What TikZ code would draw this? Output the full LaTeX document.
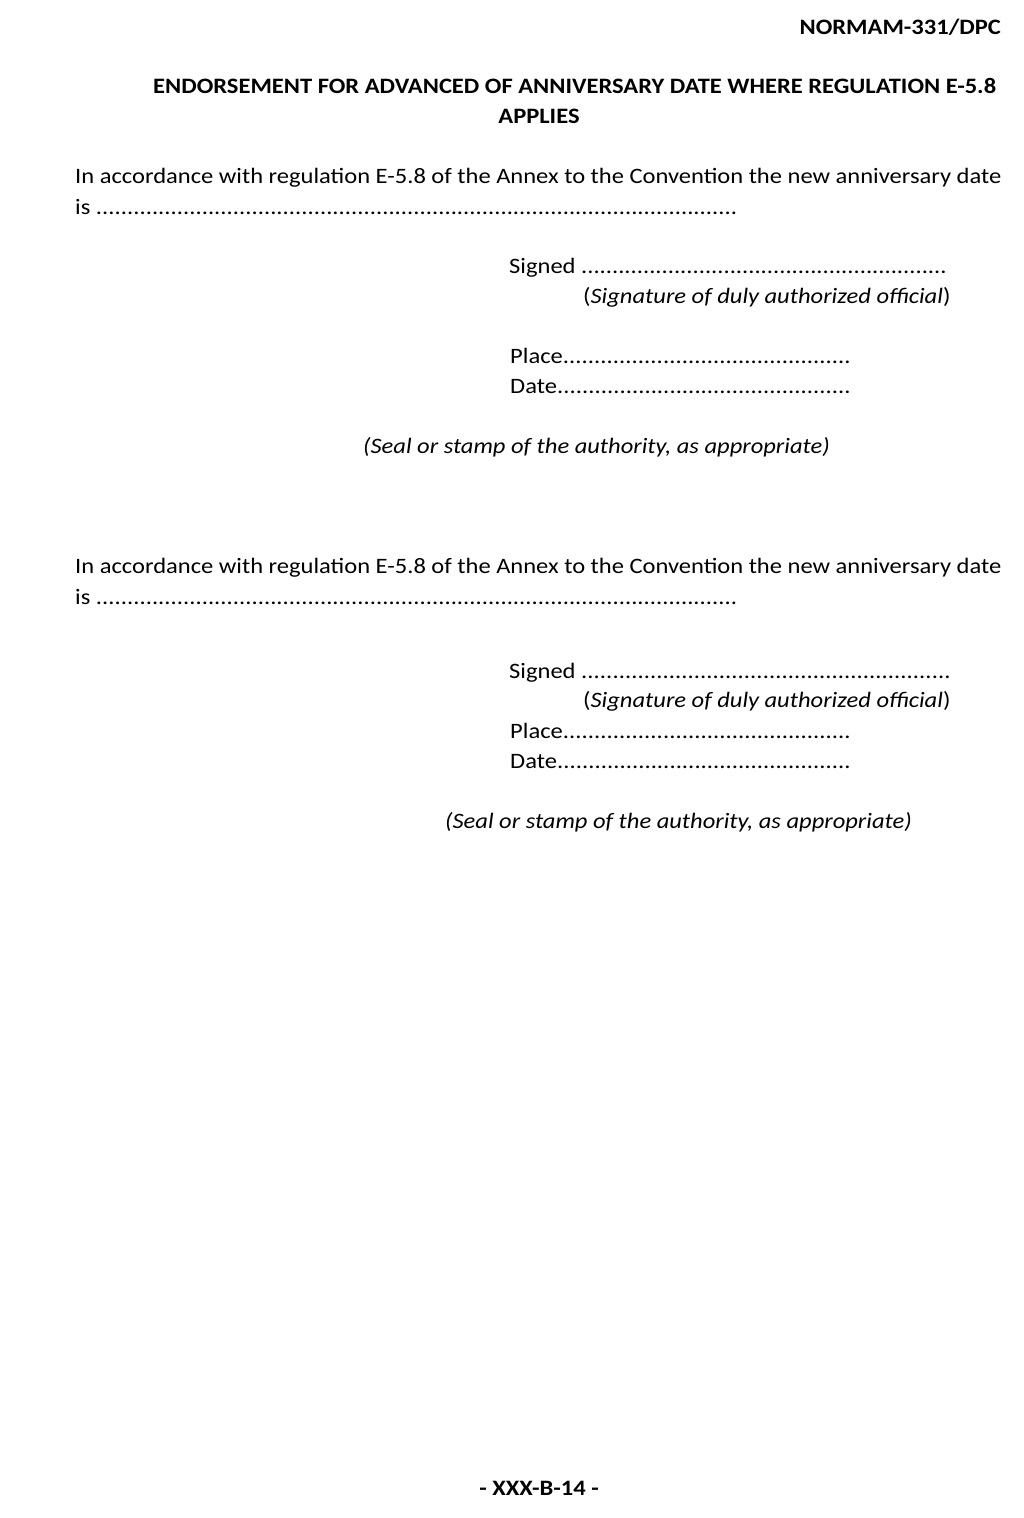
\documentclass[tikz,border=0pt]{standalone}
\usepackage{fontspec}
\setmainfont{Carlito}[FakeStretch=1.115]
\newcommand\dotrow[2]{\makebox[#1][l]{#2\xleaders\hbox{.}\hfill}}
\begin{document}
\begin{tikzpicture}[x=1pt,y=-1pt,
    txt/.style={anchor=base west,inner sep=0pt,font=\fontsize{22}{26}\selectfont},
    btxt/.style={txt,font=\fontsize{22}{26}\selectfont\bfseries}]
          %page
          \useasboundingbox[fill=white] (0,0) rectangle (1024,1518);
          \node[btxt,anchor=base east] (ref) at (1001,34) {NORMAM-331/DPC};
          \node[btxt] (title1) at (153,93) {ENDORSEMENT FOR ADVANCED OF ANNIVERSARY DATE WHERE REGULATION E-5.8};
          \node[btxt,anchor=base] (title2) at (539,123) {APPLIES};
          %first endorsement
          \node[txt] (para1) at (75,183) {In accordance with regulation E-5.8 of the Annex to the Convention the new anniversary date};
          \node[txt] (is1) at (75,214) {\dotrow{663pt}{is }};
          \node[txt] (signed1) at (509,273) {\dotrow{438pt}{Signed }};
          \node[txt] (sig1) at (583,303) {(\textit{Signature of duly authorized official})};
          \node[txt] (place1) at (510,363) {\dotrow{341pt}{Place}};
          \node[txt] (date1) at (510,393) {\dotrow{341pt}{Date}};
          \node[txt] (seal1) at (363,453) {\textit{(Seal or stamp of the authority, as appropriate)}};
          %second endorsement
          \node[txt] (para2) at (75,573) {In accordance with regulation E-5.8 of the Annex to the Convention the new anniversary date};
          \node[txt] (is2) at (75,604) {\dotrow{663pt}{is }};
          \node[txt] (signed2) at (509,678) {\dotrow{442pt}{Signed }};
          \node[txt] (sig2) at (583,707) {(\textit{Signature of duly authorized official})};
          \node[txt] (place2) at (510,738) {\dotrow{341pt}{Place}};
          \node[txt] (date2) at (510,768) {\dotrow{341pt}{Date}};
          \node[txt] (seal2) at (445,828) {\textit{(Seal or stamp of the authority, as appropriate)}};
          %footer
          \node[btxt,anchor=base] (page) at (539,1495) {- XXX-B-14 -};
\end{tikzpicture}
\end{document}
